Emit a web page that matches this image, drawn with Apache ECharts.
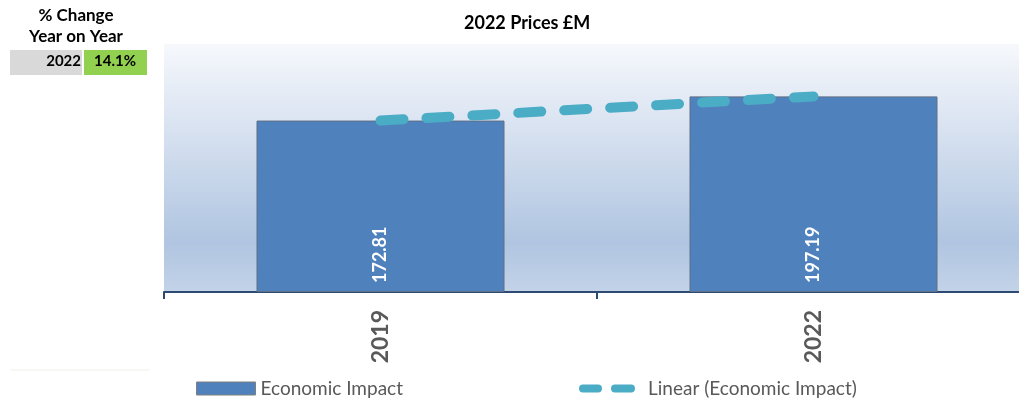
<!DOCTYPE html>
<html>
<head>
<meta charset="utf-8">
<script src="https://cdn.jsdelivr.net/npm/echarts@6/dist/echarts.min.js"></script>
<style>
  html, body { margin: 0; padding: 0; background: #fff; }
  #chart { width: 1019px; height: 398px; }
</style>
</head>
<body>
<div id="chart"></div>
<script>
// data
var years = ['2019', '2022']
var impact = [172.81, 197.19]
var trend = [172.81, 197.19] // linear trend through the two points
var changeYear = ['2022']
var changePct = ['14.1%']

var font = 'Lato'
var chart = echarts.init(document.getElementById('chart'))

var option = {
  animation: false,
  title: {
    text: '2022 Prices £M',
    left: 459,
    top: 9,
    textStyle: { fontFamily: font, fontSize: 18, fontWeight: 'bold', color: '#000' }
  },
  // 图例 - 两个分开放
  legend: [{
    data: ['Economic Impact'],
    left: 191,
    top: 374,
    itemWidth: 59,
    itemHeight: 13,
    icon: 'rect',
    itemStyle: { borderColor: '#7f7f7f', borderWidth: 1 },
    textStyle: { fontFamily: font, fontSize: 19, color: '#595959' }
  }, {
    data: ['Linear (Economic Impact)'],
    left: 574,
    top: 374,
    itemWidth: 58,
    itemHeight: 8,
    icon: 'path://M4,0H19A4,4 0 0 1 19,8H4A4,4 0 0 1 4,0Z M36,0H52A4,4 0 0 1 52,8H36A4,4 0 0 1 36,0Z',
    itemStyle: { color: '#4bacc6' },
    textStyle: { fontFamily: font, fontSize: 19, color: '#595959', padding: [0, 0, 0, 7] }
  }],
  grid: {
    left: 164,
    width: 866,
    top: 44,
    bottom: 106,
    outerBoundsMode: 'none',
    containLabel: false,
    show: true,
    borderWidth: 0,
    backgroundColor: {
      type: 'linear', x: 0, y: 0, x2: 0, y2: 1,
      colorStops: [
        { offset: 0, color: '#f6f8fc' },
        { offset: 0.8, color: '#b0c5e1' },
        { offset: 1, color: '#c3d3e8' }
      ]
    }
  },
  xAxis: {
    type: 'category',
    data: years,
    axisLine: { lineStyle: { color: '#2d4a73', width: 2 } },
    axisTick: { show: true, length: 7, lineStyle: { color: '#2d4a73', width: 2 } },
    axisLabel: {
      rotate: 90,
      margin: 18,
      fontFamily: font,
      fontSize: 23,
      fontWeight: 'bold',
      color: '#595959'
    }
  },
  yAxis: {
    type: 'value',
    min: 0,
    max: 250,
    show: false,
    splitLine: { show: false }
  },
  series: [{
    name: 'Economic Impact',
    type: 'bar',
    data: impact,
    barWidth: 248,
    itemStyle: { color: '#4f81bd', borderColor: '#5f6f86', borderWidth: 1 },
    label: {
      show: true,
      position: 'insideBottom',
      rotate: 90,
      align: 'left',
      verticalAlign: 'middle',
      distance: 9,
      formatter: function(p) { return p.value.toFixed(2) },
      fontFamily: font,
      fontSize: 18,
      fontWeight: 'bold',
      color: '#fff'
    }
  }, {
    name: 'Linear (Economic Impact)',
    type: 'line',
    data: trend,
    symbol: 'none',
    z: 5,
    lineStyle: { color: '#4bacc6', width: 10, type: [23, 23], cap: 'round' }
  }],
  graphic: [
    { type: 'text', style: { text: '% Change', x: 76, y: 7, align: 'center', font: 'bold 17px Lato', fill: '#000' } },
    { type: 'text', style: { text: 'Year on Year', x: 76, y: 28, align: 'center', font: 'bold 17px Lato', fill: '#000' } },
    { type: 'rect', shape: { x: 10, y: 50, width: 72, height: 25 }, style: { fill: '#d9d9d9' } },
    { type: 'rect', shape: { x: 84, y: 50, width: 63, height: 25 }, style: { fill: '#92d050' } },
    { type: 'text', style: { text: changeYear[0], x: 81, y: 54, align: 'right', font: 'bold 15px Lato', fill: '#000' } },
    { type: 'text', style: { text: changePct[0], x: 115, y: 54, align: 'center', font: 'bold 15px Lato', fill: '#000' } },
    { type: 'line', shape: { x1: 10, y1: 370, x2: 150, y2: 370 }, style: { stroke: '#f2f2e6', lineWidth: 1 } }
  ]
}

chart.setOption(option)
</script>
</body>
</html>
